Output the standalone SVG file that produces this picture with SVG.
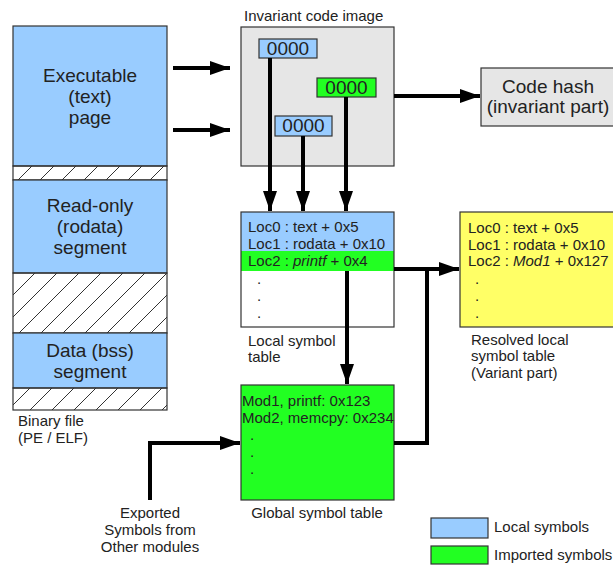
<svg xmlns="http://www.w3.org/2000/svg" width="613" height="567" viewBox="0 0 613 567">
  <defs>
    <pattern id="hatch" patternUnits="userSpaceOnUse" width="22" height="22">
      <path d="M-2,24 L24,-2 M-2,2 L2,-2 M20,24 L24,20" stroke="#333" stroke-width="1"/>
    </pattern>
    <marker id="arrow" markerUnits="userSpaceOnUse" markerWidth="20" markerHeight="14" refX="20" refY="7" orient="auto">
      <path d="M0,0 L20,7 L0,14 z" fill="#000"/>
    </marker>
  </defs>
  <style>
    .box { stroke: #333; stroke-width: 1.2; }
    .blue { fill: #99ccff; }
    .green { fill: #22ff22; }
    .gray { fill: #e6e6e6; }
    .yellow { fill: #ffff66; }
    .hatched { fill: url(#hatch); }
    text { font-family: "Liberation Sans", Arial, sans-serif; fill: #222; }
    .big { font-size: 19px; text-anchor: middle; }
    .lbl { font-size: 15px; }
    .mid { text-anchor: middle; }
    .wire { fill: none; stroke: #000; stroke-width: 4; }
    .arr { marker-end: url(#arrow); }
  </style>

  <rect width="613" height="567" fill="#fff"/>

  <!-- Binary file layout -->
  <g id="binary-file">
    <rect class="box blue" x="13" y="26" width="154" height="140"/>
    <rect class="box hatched" x="13" y="166" width="154" height="14"/>
    <rect class="box blue" x="13" y="180" width="154" height="93"/>
    <rect class="box hatched" x="13" y="273" width="154" height="60"/>
    <rect class="box blue" x="13" y="333" width="154" height="55"/>
    <rect class="box hatched" x="13" y="388" width="154" height="22"/>
    <text class="big" x="90" y="82">Executable</text>
    <text class="big" x="90" y="103">(text)</text>
    <text class="big" x="90" y="124">page</text>
    <text class="big" x="90" y="212">Read-only</text>
    <text class="big" x="90" y="233">(rodata)</text>
    <text class="big" x="90" y="254">segment</text>
    <text class="big" x="90" y="357">Data (bss)</text>
    <text class="big" x="90" y="378">segment</text>
    <text class="lbl" x="18" y="426">Binary file</text>
    <text class="lbl" x="18" y="443">(PE / ELF)</text>
  </g>

  <!-- Invariant code image with relocation slots -->
  <g id="code-image">
    <text class="lbl" x="244" y="21">Invariant code image</text>
    <rect class="box gray" x="241" y="27" width="153" height="139"/>
  </g>
  <g id="slot-text">
    <rect class="box blue" x="259" y="39" width="58" height="19"/>
    <text class="big" x="288" y="55">0000</text>
  </g>
  <g id="slot-import">
    <rect class="box green" x="317" y="78" width="59" height="19"/>
    <text class="big" x="346.5" y="94">0000</text>
  </g>
  <g id="slot-rodata">
    <rect class="box blue" x="275" y="116" width="57" height="20"/>
    <text class="big" x="303.5" y="132">0000</text>
  </g>

  <!-- Code hash -->
  <g id="code-hash">
    <rect class="box gray" x="481" y="68" width="140" height="58"/>
    <text class="big" x="548" y="93">Code hash</text>
    <text class="big" x="548" y="113">(invariant part)</text>
  </g>

  <!-- Local symbol table -->
  <g id="local-table">
    <rect x="241" y="212" width="153" height="115" fill="#fff"/>
    <rect class="blue" x="241" y="212" width="153" height="39"/>
    <rect class="green" x="241" y="251" width="153" height="20"/>
    <rect x="241" y="212" width="153" height="115" fill="none" stroke="#333" stroke-width="1.2"/>
    <text class="lbl" x="248" y="232">Loc0 : text + 0x5</text>
    <text class="lbl" x="248" y="249">Loc1 : rodata + 0x10</text>
    <text class="lbl" x="248" y="266">Loc2 : <tspan font-style="italic">printf</tspan> + 0x4</text>
    <text class="lbl" x="257" y="284">.</text>
    <text class="lbl" x="257" y="301">.</text>
    <text class="lbl" x="257" y="318">.</text>
    <text class="lbl" x="248" y="346">Local symbol</text>
    <text class="lbl" x="248" y="362">table</text>
  </g>

  <!-- Resolved local symbol table -->
  <g id="resolved-table">
    <rect class="box yellow" x="460" y="212" width="160" height="115"/>
    <text class="lbl" x="468" y="233">Loc0 : text + 0x5</text>
    <text class="lbl" x="468" y="250">Loc1 : rodata + 0x10</text>
    <text class="lbl" x="468" y="266">Loc2 : <tspan font-style="italic">Mod1</tspan> + 0x127</text>
    <text class="lbl" x="475" y="284">.</text>
    <text class="lbl" x="475" y="301">.</text>
    <text class="lbl" x="475" y="318">.</text>
    <text class="lbl" x="471" y="345">Resolved local</text>
    <text class="lbl" x="471" y="361">symbol table</text>
    <text class="lbl" x="471" y="378">(Variant part)</text>
  </g>

  <!-- Global symbol table -->
  <g id="global-table">
    <rect class="box green" x="241" y="385" width="153" height="115"/>
    <text class="lbl" x="242" y="406">Mod1, printf: 0x123</text>
    <text class="lbl" x="242" y="423">Mod2, memcpy: 0x234</text>
    <text class="lbl" x="250" y="440">.</text>
    <text class="lbl" x="250" y="457">.</text>
    <text class="lbl" x="250" y="474">.</text>
    <text class="lbl mid" x="317" y="518">Global symbol table</text>
  </g>

  <!-- External exports -->
  <g id="exports">
    <text class="lbl mid" x="150" y="518">Exported</text>
    <text class="lbl mid" x="150" y="535">Symbols from</text>
    <text class="lbl mid" x="150" y="552">Other modules</text>
  </g>

  <!-- Legend -->
  <g id="legend">
    <rect class="box blue" x="431" y="518" width="57" height="20"/>
    <text class="lbl" x="494" y="532">Local symbols</text>
    <rect class="box green" x="431" y="546" width="57" height="18"/>
    <text class="lbl" x="494" y="560">Imported symbols</text>
  </g>

  <!-- Connectors -->
  <g id="connectors">
    <line class="wire arr" x1="173" y1="68" x2="230" y2="68"/>
    <line class="wire arr" x1="173" y1="130" x2="230" y2="130"/>
    <line class="wire arr" x1="394" y1="96" x2="480" y2="96"/>
    <line class="wire arr" x1="270" y1="58" x2="270" y2="211"/>
    <line class="wire arr" x1="303" y1="136" x2="303" y2="211"/>
    <line class="wire arr" x1="346" y1="97" x2="346" y2="211"/>
    <line class="wire arr" x1="347" y1="271" x2="347" y2="384"/>
    <line class="wire arr" x1="394" y1="269" x2="459" y2="269"/>
    <polyline class="wire" points="394,443 427,443 427,269"/>
    <polyline class="wire arr" points="150,500 150,443 240,443"/>
  </g>
</svg>
